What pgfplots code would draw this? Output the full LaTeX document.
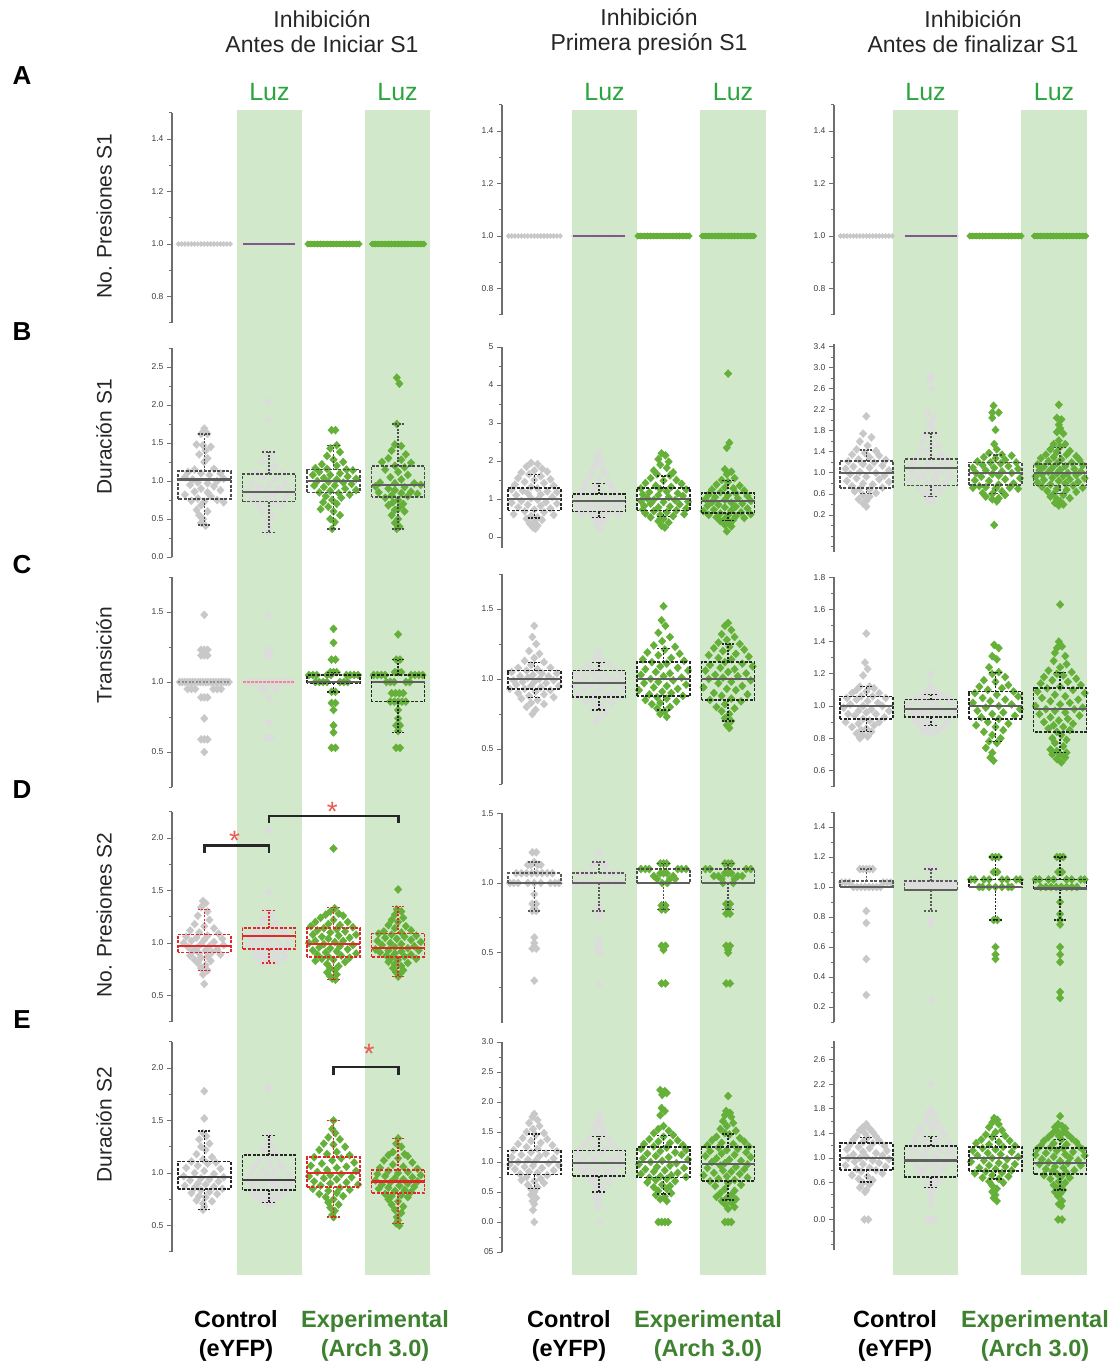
\documentclass[border=0pt]{standalone}
\usepackage{pgfplots}
\pgfplotsset{compat=1.18}
\usepgfplotslibrary{statistics}
\usepackage{fontspec}
\setmainfont{Liberation Sans}
\definecolor{band}{RGB}{210,232,203}
\definecolor{pg}{RGB}{200,200,200}
\definecolor{pg2}{RGB}{220,220,220}
\definecolor{pgr}{RGB}{100,176,56}
\definecolor{axg}{RGB}{110,110,110}
\definecolor{tickc}{RGB}{60,60,60}
\definecolor{luz}{RGB}{40,165,60}
\definecolor{expg}{RGB}{62,130,48}
\definecolor{medg}{RGB}{95,95,95}
\definecolor{boxred}{RGB}{225,40,40}
\definecolor{starred}{RGB}{235,90,80}
\definecolor{purp}{RGB}{120,95,125}
\definecolor{pink}{RGB}{235,140,140}
\pgfplotsset{
 pan/.style={set layers, scale only axis, width=258.4pt, anchor=south west, xmin=0.5, xmax=4.5,
  axis x line=none, axis y line=left, y axis line style={-, draw=axg, line width=1.3pt},
  xtick=\empty, tick align=outside, major tick length=5pt, minor tick length=3pt,
  every tick/.append style={draw=axg, line width=1pt},
  yticklabel style={font=\fontsize{8.5}{9}\selectfont, text=tickc, /pgf/number format/fixed, /pgf/number format/fixed zerofill, /pgf/number format/precision=1},
  /pgf/number format/assume math mode=true, clip=false, scaled y ticks=false},
 P1/.style={only marks, mark=diamond*, mark size=4pt, color=pg, mark options={xscale=1.25}, forget plot},
 P2/.style={only marks, mark=diamond*, mark size=4pt, color=pg2, mark options={xscale=1.25}, forget plot},
 P3/.style={only marks, mark=diamond*, mark size=4pt, color=pgr, mark options={xscale=1.25}, forget plot},
 FG/.style={forget plot, on layer=axis foreground},
}
\newcommand{\bp}[8]{\addplot[FG, draw=#7, boxplot prepared={draw direction=y, draw position=#1, lower whisker=#2, lower quartile=#3, median=#4, upper quartile=#5, upper whisker=#6, box extend=0.82, whisker extend=0.2, every box/.style={draw=#7, dash pattern=on 3pt off 1.5pt, line width=1.7pt}, every whisker/.style={draw=#7, dash pattern=on 2pt off 1.5pt, line width=1.4pt}, every median/.style={draw=#8, solid, line width=2.2pt}}] coordinates {};}
\newcommand{\rowApanel}{%
 \addplot[P1, mark size=2.6pt] coordinates {(0.6,1)(0.65,1)(0.7,1)(0.75,1)(0.8,1)(0.85,1)(0.9,1)(0.95,1)(1.0,1)(1.05,1)(1.1,1)(1.15,1)(1.2,1)(1.25,1)(1.3,1)(1.35,1)(1.4,1)};
 \addplot[P2, mark size=2.2pt] coordinates {(1.6,1)(1.65,1)(1.7,1)(1.75,1)(1.8,1)(1.85,1)(1.9,1)(1.95,1)(2.0,1)(2.05,1)(2.1,1)(2.15,1)(2.2,1)(2.25,1)(2.3,1)(2.35,1)(2.4,1)};
 \addplot[P3, mark size=3.2pt] coordinates {(2.6,1)(2.65,1)(2.7,1)(2.75,1)(2.8,1)(2.85,1)(2.9,1)(2.95,1)(3.0,1)(3.05,1)(3.1,1)(3.15,1)(3.2,1)(3.25,1)(3.3,1)(3.35,1)(3.4,1)};
 \addplot[P3, mark size=3.2pt] coordinates {(3.6,1)(3.65,1)(3.7,1)(3.75,1)(3.8,1)(3.85,1)(3.9,1)(3.95,1)(4.0,1)(4.05,1)(4.1,1)(4.15,1)(4.2,1)(4.25,1)(4.3,1)(4.35,1)(4.4,1)};
 \addplot[FG, purp, line width=2.4pt] coordinates {(1.6,1)(2.4,1)};
 \addplot[FG, pgr, line width=5.5pt, line cap=round] coordinates {(2.62,1)(3.38,1)};
 \addplot[FG, pgr, line width=5.5pt, line cap=round] coordinates {(3.62,1)(4.38,1)};
}
\begin{document}
\begin{tikzpicture}
\path (0pt,0pt) rectangle (1115pt,-1368pt);
\fill[band] (237pt,-110pt) rectangle (302pt,-1275pt);
\fill[band] (365pt,-110pt) rectangle (430pt,-1275pt);
\fill[band] (572pt,-110pt) rectangle (637pt,-1275pt);
\fill[band] (700pt,-110pt) rectangle (766pt,-1275pt);
\fill[band] (893pt,-110pt) rectangle (958pt,-1275pt);
\fill[band] (1021pt,-110pt) rectangle (1087pt,-1275pt);
\node[font=\fontsize{23}{25}\selectfont, align=center, text=black!85] at (322pt,-32pt) {Inhibición\\Antes de Iniciar S1};
\node[font=\fontsize{23}{25}\selectfont, align=center, text=black!85] at (649pt,-32pt) {Inhibición\\Primera presión S1};
\node[font=\fontsize{23}{25}\selectfont, align=center, text=black!85] at (973pt,-32pt) {Inhibición\\Antes de finalizar S1};
\foreach \xx in {269.5,397.5,604.5,733,925.5,1054}{\node[font=\fontsize{25}{25}\selectfont, text=luz] at (\xx pt,-92pt) {Luz};}
\foreach \ll/\yy in {A/-76,B/-332,C/-565,D/-790,E/-1020}{\node[font=\fontsize{26}{26}\selectfont\bfseries] at (22pt,\yy pt) {\ll};}
\node[rotate=90, font=\fontsize{21}{21}\selectfont, text=black!85] at (104pt,-216pt) {No. Presiones S1};
\node[rotate=90, font=\fontsize{21}{21}\selectfont, text=black!85] at (104pt,-437pt) {Duración S1};
\node[rotate=90, font=\fontsize{21}{21}\selectfont, text=black!85] at (104pt,-655pt) {Transición};
\node[rotate=90, font=\fontsize{21}{21}\selectfont, text=black!85] at (104pt,-915pt) {No. Presiones S2};
\node[rotate=90, font=\fontsize{21}{21}\selectfont, text=black!85] at (104pt,-1125pt) {Duración S2};
\foreach \cx/\ex in {236/375,569/708,895/1035}{
 \node[font=\fontsize{23.5}{29}\selectfont\bfseries, align=center] at (\cx pt,-1336pt) {Control\\(eYFP)};
 \node[font=\fontsize{23.5}{29}\selectfont\bfseries, align=center, text=expg] at (\ex pt,-1336pt) {Experimental\\(Arch 3.0)};
}
%%%%%%%%%%%%%%%% ROW A
\begin{axis}[pan, at={(172pt,-322.75pt)}, height=210pt, ymin=0.7, ymax=1.5, ytick={0.8,1.0,1.2,1.4}, minor ytick={0.7,0.9,1.1,1.3,1.5}]
\rowApanel
\end{axis}
\begin{axis}[pan, at={(502pt,-314.75pt)}, height=210pt, ymin=0.7, ymax=1.5, ytick={0.8,1.0,1.2,1.4}, minor ytick={0.7,0.9,1.1,1.3,1.5}]
\rowApanel
\end{axis}
\begin{axis}[pan, at={(834pt,-314.75pt)}, height=210pt, ymin=0.7, ymax=1.5, ytick={0.8,1.0,1.2,1.4}, minor ytick={0.7,0.9,1.1,1.3,1.5}]
\rowApanel
\end{axis}
%%%%%%%%%%%%%%%% ROW B
\begin{axis}[pan, at={(172pt,-557pt)}, height=209pt, ymin=0, ymax=2.75, ytick={0,0.5,1,1.5,2,2.5}, minor ytick={0.25,0.75,1.25,1.75,2.25,2.75}]
\addplot[P1] coordinates {(1.0,1.69)(0.95,1.62)(1.05,1.62)(0.88,1.48)(0.98,1.47)(1.1,1.45)(1.02,1.4)(0.92,1.35)(1.05,1.3)(1.0,1.25)(0.85,1.15)(1.15,1.16)(0.75,1.12)(1.25,1.1)(0.95,1.1)(1.08,1.08)(0.7,1.05)(0.82,1.02)(1.2,1.0)(1.3,1.03)(0.9,0.98)(1.05,0.97)(0.78,0.95)(1.15,0.93)(0.95,0.9)(1.25,0.88)(0.85,0.86)(1.05,0.85)(0.7,0.82)(1.1,0.8)(0.9,0.77)(1.2,0.75)(0.8,0.74)(1.0,0.73)(1.3,0.72)(0.95,0.68)(0.88,0.62)(1.05,0.6)(0.92,0.55)(0.98,0.5)(0.95,0.45)(1.02,0.41)};
\addplot[P2] coordinates {(1.98,2.04)(1.98,1.8)(1.95,1.38)(2.05,1.32)(1.9,1.25)(2.1,1.2)(2.0,1.15)(1.8,1.1)(2.2,1.1)(1.9,1.05)(2.1,1.02)(1.75,0.98)(2.25,0.97)(2.0,0.95)(1.85,0.92)(2.15,0.9)(1.7,0.88)(1.95,0.86)(2.3,0.86)(2.1,0.84)(1.8,0.82)(2.0,0.8)(2.25,0.78)(1.75,0.76)(1.92,0.74)(2.1,0.73)(1.85,0.7)(2.2,0.68)(2.0,0.65)(1.9,0.6)(2.05,0.55)(1.97,0.48)(2.0,0.4)(1.98,0.32)};
\addplot[P3] coordinates {(2.97,1.67)(3.03,1.67)(3.05,1.47)(2.95,1.43)(3.1,1.38)(2.9,1.33)(3.0,1.28)(3.15,1.25)(2.82,1.22)(3.05,1.2)(2.72,1.17)(2.9,1.16)(3.2,1.15)(3.3,1.14)(2.78,1.12)(3.1,1.1)(2.68,1.08)(2.95,1.08)(3.22,1.06)(2.85,1.04)(3.35,1.03)(3.05,1.02)(2.75,1.0)(2.92,0.99)(3.15,0.98)(3.28,0.96)(2.7,0.94)(3.02,0.94)(2.85,0.92)(3.18,0.9)(3.35,0.88)(2.95,0.87)(2.78,0.85)(3.08,0.84)(3.25,0.82)(2.88,0.8)(3.12,0.78)(2.98,0.75)(2.84,0.72)(3.05,0.7)(2.92,0.66)(2.8,0.63)(3.0,0.6)(3.1,0.55)(2.95,0.5)(3.02,0.46)(2.98,0.37)};
\addplot[P3] coordinates {(3.98,2.36)(4.02,2.28)(3.98,1.75)(3.95,1.48)(4.05,1.46)(3.9,1.4)(4.12,1.35)(3.85,1.3)(4.05,1.28)(3.75,1.25)(4.2,1.24)(3.95,1.2)(4.1,1.18)(3.8,1.15)(4.0,1.12)(4.15,1.08)(3.88,1.05)(4.05,1.02)(3.72,0.98)(3.95,0.97)(4.25,0.97)(4.35,0.95)(3.65,0.93)(4.1,0.92)(3.85,0.9)(3.95,0.88)(4.2,0.86)(3.7,0.85)(4.05,0.84)(4.3,0.83)(3.9,0.81)(4.15,0.8)(3.8,0.78)(4.0,0.75)(3.92,0.72)(4.08,0.7)(3.85,0.68)(4.02,0.65)(3.95,0.62)(4.1,0.6)(3.9,0.55)(4.0,0.5)(3.95,0.45)(4.02,0.4)(3.98,0.37)};
\bp{1}{0.42}{0.76}{1.02}{1.13}{1.62}{black!70}{medg}
\bp{2}{0.32}{0.73}{0.86}{1.09}{1.38}{black!70}{medg}
\bp{3}{0.37}{0.85}{1.0}{1.15}{1.47}{black!70}{medg}
\bp{4}{0.37}{0.79}{0.95}{1.2}{1.75}{black!70}{medg}
\end{axis}
\begin{axis}[pan, at={(502pt,-548.4pt)}, height=201.4pt, ymin=-0.3, ymax=5, ytick={0,1,2,3,4,5}, minor ytick={0.5,1.5,2.5,3.5,4.5}, yticklabel style={/pgf/number format/precision=0}]
\addplot[P1] coordinates {(0.95,1.95)(1.05,1.92)(0.88,1.85)(1.12,1.8)(1.0,1.75)(0.8,1.7)(1.2,1.72)(0.92,1.65)(1.1,1.6)(0.75,1.55)(1.25,1.52)(1.0,1.5)(0.85,1.45)(1.15,1.42)(0.7,1.38)(1.3,1.35)(0.95,1.32)(1.05,1.28)(0.65,1.25)(0.82,1.22)(1.2,1.2)(1.35,1.18)(0.9,1.15)(1.1,1.12)(0.72,1.1)(1.28,1.05)(0.95,1.02)(1.05,0.98)(0.8,0.95)(1.18,0.92)(0.65,0.9)(1.35,0.88)(0.9,0.85)(1.1,0.82)(0.75,0.78)(1.25,0.75)(1.0,0.72)(0.85,0.68)(1.15,0.65)(0.68,0.6)(1.3,0.58)(0.95,0.55)(1.05,0.52)(0.88,0.48)(1.12,0.45)(1.0,0.4)(0.93,0.35)(1.05,0.3)(0.98,0.25)(1.02,0.22)};
\addplot[P2] coordinates {(2.0,2.2)(1.97,2.1)(2.03,2.0)(1.95,1.9)(2.05,1.8)(1.9,1.72)(2.1,1.65)(1.85,1.58)(2.0,1.5)(2.15,1.45)(1.8,1.4)(1.95,1.35)(2.2,1.3)(1.75,1.25)(2.05,1.22)(1.9,1.18)(2.25,1.12)(1.7,1.1)(2.1,1.05)(1.85,1.0)(2.3,0.98)(1.65,0.95)(2.0,0.93)(2.2,0.9)(1.8,0.88)(1.95,0.85)(2.35,0.82)(1.68,0.8)(2.1,0.78)(1.85,0.75)(2.25,0.72)(1.72,0.7)(2.0,0.68)(2.15,0.65)(1.9,0.62)(2.3,0.6)(1.75,0.58)(2.05,0.55)(1.92,0.5)(2.1,0.45)(1.97,0.4)(2.03,0.35)(1.98,0.28)(2.02,0.22)};
\addplot[P3] coordinates {(2.97,2.2)(3.03,2.15)(2.92,2.05)(3.08,1.98)(2.95,1.9)(3.05,1.82)(2.85,1.75)(3.15,1.7)(2.9,1.65)(3.1,1.62)(2.8,1.55)(3.2,1.5)(3.0,1.48)(2.72,1.42)(3.28,1.4)(2.88,1.35)(3.12,1.32)(2.65,1.28)(2.95,1.26)(3.35,1.25)(3.05,1.2)(2.78,1.18)(3.22,1.15)(2.68,1.12)(2.92,1.1)(3.3,1.08)(3.08,1.05)(2.75,1.02)(2.85,0.98)(3.18,0.97)(2.65,0.95)(3.38,0.93)(3.0,0.92)(2.8,0.88)(3.25,0.86)(2.7,0.82)(3.1,0.8)(2.92,0.78)(3.35,0.75)(2.68,0.72)(3.2,0.7)(2.85,0.68)(3.05,0.65)(2.72,0.62)(3.32,0.6)(2.95,0.58)(3.15,0.55)(2.8,0.52)(3.0,0.48)(2.92,0.42)(3.08,0.38)(2.97,0.3)(3.02,0.25)};
\addplot[P3] coordinates {(4.0,4.3)(4.02,2.48)(3.98,2.35)(3.95,1.78)(4.05,1.72)(3.98,1.65)(4.1,1.55)(3.9,1.5)(4.0,1.45)(3.82,1.38)(4.18,1.35)(3.95,1.3)(4.08,1.28)(3.75,1.25)(4.25,1.22)(3.88,1.18)(4.12,1.15)(3.7,1.12)(4.0,1.1)(4.3,1.08)(3.8,1.05)(4.15,1.02)(3.65,1.0)(3.95,0.98)(4.35,0.95)(3.75,0.92)(4.05,0.9)(4.22,0.88)(3.85,0.85)(3.68,0.82)(4.12,0.8)(3.95,0.78)(4.3,0.75)(3.78,0.72)(4.05,0.7)(3.62,0.68)(4.2,0.65)(3.88,0.62)(4.35,0.6)(3.7,0.58)(4.0,0.57)(4.12,0.55)(3.82,0.52)(4.25,0.5)(3.95,0.48)(4.08,0.45)(3.88,0.42)(4.02,0.38)(3.95,0.32)(4.05,0.28)(3.98,0.15)};
\bp{1}{0.5}{0.7}{1.0}{1.29}{1.65}{black!85}{medg}
\bp{2}{0.52}{0.67}{0.94}{1.13}{1.41}{black!85}{medg}
\bp{3}{0.54}{0.7}{1.0}{1.29}{1.61}{black!85}{medg}
\bp{4}{0.43}{0.63}{0.95}{1.16}{1.48}{black!85}{medg}
\end{axis}
\begin{axis}[pan, at={(834pt,-551.75pt)}, height=207.4pt, ymin=-0.5, ymax=3.45, ytick={0.2,0.6,1.0,1.4,1.8,2.2,2.6,3.0,3.4}, minor ytick={-0.4,-0.2,0,0.4,0.8,1.2,1.6,2.0,2.4,2.8,3.2}]
\addplot[P1] coordinates {(1.0,2.08)(0.95,1.75)(1.08,1.68)(0.9,1.6)(1.02,1.52)(0.85,1.45)(1.15,1.42)(0.98,1.38)(0.78,1.35)(1.2,1.33)(1.05,1.3)(0.88,1.26)(1.3,1.25)(0.72,1.22)(1.12,1.2)(0.95,1.17)(1.25,1.14)(0.8,1.12)(1.05,1.1)(0.68,1.08)(1.35,1.05)(0.9,1.02)(1.15,1.0)(0.75,0.98)(1.28,0.95)(1.0,0.93)(0.85,0.9)(1.2,0.88)(0.7,0.85)(1.35,0.83)(0.95,0.8)(1.1,0.78)(0.78,0.75)(1.25,0.72)(0.9,0.7)(1.05,0.68)(0.82,0.65)(1.15,0.62)(0.95,0.58)(1.05,0.55)(0.88,0.5)(1.0,0.47)(0.95,0.42)(1.0,0.36)};
\addplot[P2] coordinates {(2.0,2.85)(1.98,2.78)(2.02,2.6)(1.95,2.15)(2.05,2.05)(1.98,1.95)(2.02,1.85)(1.92,1.75)(2.08,1.68)(1.88,1.6)(2.0,1.55)(2.12,1.5)(1.85,1.45)(1.95,1.4)(2.15,1.35)(1.8,1.3)(2.05,1.27)(2.25,1.25)(1.75,1.22)(1.95,1.2)(2.18,1.16)(1.7,1.14)(2.05,1.12)(2.3,1.1)(1.85,1.08)(1.98,1.06)(2.2,1.03)(1.72,1.0)(2.1,0.98)(1.9,0.95)(2.3,0.93)(1.8,0.9)(2.05,0.88)(1.68,0.85)(2.22,0.82)(1.95,0.8)(2.1,0.76)(1.82,0.72)(2.0,0.68)(2.15,0.65)(1.9,0.6)(2.05,0.55)(1.95,0.5)(2.02,0.46)};
\addplot[P3] coordinates {(2.97,2.28)(2.95,2.15)(3.05,2.15)(2.95,2.05)(3.0,1.82)(2.98,1.55)(3.02,1.45)(2.9,1.38)(3.1,1.35)(3.25,1.33)(2.82,1.3)(3.0,1.28)(3.15,1.25)(2.72,1.22)(2.92,1.2)(3.32,1.2)(3.08,1.18)(2.8,1.15)(3.2,1.13)(2.65,1.1)(2.98,1.1)(3.35,1.08)(2.85,1.05)(3.1,1.03)(2.7,1.0)(3.25,1.0)(2.95,0.98)(3.05,0.95)(2.78,0.93)(3.38,0.9)(3.15,0.88)(2.68,0.86)(2.9,0.85)(3.28,0.8)(3.05,0.78)(2.75,0.75)(2.85,0.73)(3.22,0.72)(2.65,0.72)(3.0,0.7)(3.35,0.7)(3.1,0.65)(2.8,0.62)(2.95,0.6)(3.15,0.58)(2.85,0.55)(3.05,0.52)(2.95,0.5)(3.02,0.46)(2.98,0.01)};
\addplot[P3] coordinates {(3.98,2.3)(3.95,2.05)(4.02,2.02)(3.98,1.92)(4.0,1.85)(3.95,1.78)(4.05,1.75)(3.98,1.62)(3.9,1.55)(4.08,1.55)(4.0,1.5)(3.85,1.45)(4.15,1.42)(3.95,1.4)(3.78,1.35)(4.1,1.35)(4.25,1.32)(3.9,1.3)(3.7,1.28)(4.02,1.26)(4.3,1.25)(3.82,1.22)(4.18,1.2)(3.95,1.18)(3.65,1.16)(4.35,1.15)(4.08,1.13)(3.75,1.12)(3.88,1.1)(4.22,1.08)(4.0,1.06)(3.68,1.05)(4.32,1.03)(3.82,1.02)(4.12,1.0)(3.95,0.99)(3.72,0.97)(4.25,0.96)(4.05,0.94)(3.62,0.93)(3.88,0.91)(4.38,0.9)(4.15,0.88)(3.75,0.87)(3.98,0.85)(4.28,0.83)(3.65,0.82)(4.08,0.8)(3.85,0.78)(4.2,0.76)(3.72,0.74)(4.35,0.72)(3.95,0.7)(4.1,0.68)(3.8,0.66)(4.25,0.64)(3.9,0.6)(4.05,0.58)(3.85,0.55)(4.15,0.52)(3.95,0.5)(4.0,0.46)(3.92,0.43)(4.05,0.4)(3.98,0.38)};
\bp{1}{0.61}{0.72}{1.0}{1.23}{1.44}{black!70}{medg}
\bp{2}{0.55}{0.76}{1.09}{1.26}{1.76}{black!70}{medg}
\bp{3}{0.61}{0.77}{1.0}{1.2}{1.34}{black!70}{medg}
\bp{4}{0.61}{0.76}{1.0}{1.17}{1.49}{black!70}{medg}
\end{axis}
%%%%%%%%%%%%%%%% ROW C
\begin{axis}[pan, at={(172pt,-787pt)}, height=210pt, ymin=0.25, ymax=1.75, ytick={0.5,1.0,1.5}, minor ytick={0.25,0.75,1.25,1.75}]
\addplot[P1] coordinates {(1.0,1.48)(0.95,1.23)(1.0,1.23)(1.05,1.23)(0.95,1.19)(1.0,1.19)(1.05,1.19)(0.62,1.0)(0.66,1.0)(0.7,1.0)(0.74,1.0)(0.78,1.0)(0.82,1.0)(0.86,1.0)(0.9,1.0)(0.94,1.0)(0.98,1.0)(1.02,1.0)(1.06,1.0)(1.1,1.0)(1.14,1.0)(1.18,1.0)(1.22,1.0)(1.26,1.0)(1.3,1.0)(1.34,1.0)(1.38,1.0)(0.74,0.95)(0.8,0.95)(0.86,0.95)(1.14,0.95)(1.2,0.95)(1.26,0.95)(0.95,0.89)(1.0,0.89)(1.05,0.89)(1.0,0.74)(0.95,0.59)(1.0,0.59)(1.05,0.59)(1.0,0.5)};
\addplot[P2] coordinates {(2.0,1.48)(2.0,1.23)(1.97,1.19)(2.03,1.19)(1.88,0.95)(1.94,0.95)(2.1,0.95)(2.0,0.89)(2.0,0.71)(1.97,0.6)(2.03,0.6)(1.65,1.0)(1.7,1.0)(1.75,1.0)(1.8,1.0)(1.85,1.0)(1.9,1.0)(1.95,1.0)(2.0,1.0)(2.05,1.0)(2.1,1.0)(2.15,1.0)(2.2,1.0)(2.25,1.0)(2.3,1.0)(2.35,1.0)};
\addplot[FG, medg!70, line width=1.6pt, dash pattern=on 2pt off 1.5pt] coordinates {(0.6,1)(1.4,1)};
\addplot[FG, pink, line width=2.4pt, dash pattern=on 3pt off 1pt] coordinates {(1.6,1)(2.4,1)};
\addplot[P3] coordinates {(3.0,1.38)(3.0,1.28)(2.97,1.16)(3.03,1.16)(2.95,1.07)(3.0,1.07)(3.05,1.07)(2.62,1.05)(2.68,1.05)(2.74,1.05)(2.9,1.05)(2.96,1.05)(3.2,1.05)(3.26,1.05)(3.32,1.05)(3.38,1.05)(2.72,1.0)(2.78,1.0)(2.84,1.0)(2.9,1.0)(3.1,1.0)(3.16,1.0)(3.22,1.0)(2.97,0.93)(3.03,0.93)(2.97,0.85)(3.03,0.85)(3.0,0.8)(3.0,0.69)(3.0,0.64)(2.97,0.53)(3.03,0.53)};
\addplot[P3] coordinates {(4.0,1.34)(3.97,1.16)(4.03,1.16)(3.95,1.07)(4.0,1.07)(4.05,1.07)(3.62,1.05)(3.68,1.05)(3.74,1.05)(3.8,1.05)(4.2,1.05)(4.26,1.05)(4.32,1.05)(4.38,1.05)(3.82,1.0)(3.88,1.0)(3.94,1.0)(4.12,1.0)(4.18,1.0)(3.9,0.92)(3.96,0.92)(4.02,0.92)(4.08,0.92)(3.88,0.86)(3.94,0.86)(4.0,0.86)(4.06,0.86)(4.12,0.86)(4.0,0.8)(4.0,0.74)(3.97,0.69)(4.03,0.69)(4.0,0.65)(3.97,0.53)(4.03,0.53)};
\bp{3}{0.93}{0.99}{1.0}{1.05}{1.07}{black!85}{medg}
\bp{4}{0.64}{0.86}{1.0}{1.05}{1.16}{black!85}{medg}
\end{axis}
\begin{axis}[pan, at={(502pt,-784pt)}, height=210pt, ymin=0.25, ymax=1.75, ytick={0.5,1.0,1.5}, minor ytick={0.25,0.75,1.25,1.75}]
\addplot[P1] coordinates {(1.0,1.38)(0.97,1.3)(1.03,1.25)(0.92,1.2)(1.08,1.18)(1.0,1.15)(0.85,1.13)(1.15,1.12)(0.95,1.1)(0.75,1.08)(1.25,1.08)(1.05,1.07)(0.88,1.06)(0.65,1.05)(1.35,1.04)(1.12,1.04)(0.98,1.03)(0.78,1.02)(1.22,1.02)(0.9,1.01)(1.08,1.0)(0.68,0.99)(1.3,0.99)(0.82,0.98)(1.0,0.98)(1.18,0.97)(0.72,0.96)(0.95,0.95)(1.38,0.95)(1.1,0.94)(0.62,0.93)(0.85,0.93)(1.25,0.92)(1.02,0.91)(0.75,0.9)(1.15,0.89)(0.92,0.88)(1.3,0.87)(0.8,0.86)(1.05,0.85)(0.95,0.83)(1.15,0.82)(0.88,0.8)(1.02,0.78)(0.97,0.75)};
\addplot[P2] coordinates {(2.0,1.2)(1.95,1.15)(2.05,1.13)(1.85,1.1)(2.15,1.1)(2.0,1.08)(1.75,1.06)(2.25,1.06)(1.9,1.05)(2.1,1.04)(1.65,1.03)(2.35,1.03)(1.98,1.02)(1.8,1.01)(2.2,1.0)(2.05,0.99)(1.7,0.98)(2.3,0.98)(1.92,0.97)(2.12,0.96)(1.62,0.95)(1.85,0.95)(2.38,0.94)(2.02,0.93)(1.75,0.92)(2.25,0.91)(1.95,0.9)(2.15,0.89)(1.68,0.88)(1.88,0.87)(2.32,0.87)(2.08,0.86)(1.8,0.84)(2.2,0.83)(1.95,0.82)(2.05,0.8)(1.9,0.78)(2.1,0.76)(2.0,0.73)(1.97,0.7)};
\addplot[P3] coordinates {(3.0,1.52)(2.97,1.42)(3.03,1.38)(2.92,1.33)(3.1,1.3)(2.98,1.27)(2.85,1.24)(3.18,1.23)(3.02,1.21)(2.75,1.19)(3.25,1.18)(2.92,1.17)(3.12,1.15)(2.68,1.14)(3.32,1.13)(2.82,1.12)(3.05,1.11)(2.95,1.09)(3.22,1.08)(2.72,1.07)(3.38,1.06)(2.88,1.05)(3.1,1.04)(2.65,1.03)(3.0,1.02)(3.28,1.01)(2.8,1.0)(3.15,0.99)(2.92,0.98)(2.7,0.97)(3.35,0.96)(3.05,0.95)(2.85,0.94)(3.22,0.93)(2.62,0.92)(2.98,0.91)(3.12,0.9)(2.78,0.89)(3.3,0.88)(2.9,0.87)(3.05,0.86)(2.72,0.85)(3.2,0.84)(2.95,0.83)(2.82,0.82)(3.1,0.8)(2.9,0.79)(3.02,0.77)(2.95,0.75)(3.05,0.73)};
\addplot[P3] coordinates {(4.0,1.4)(3.95,1.38)(4.05,1.35)(3.9,1.32)(4.1,1.3)(3.98,1.28)(3.85,1.26)(4.18,1.25)(4.02,1.23)(3.78,1.22)(4.25,1.21)(3.92,1.2)(4.12,1.18)(3.7,1.17)(4.32,1.16)(3.85,1.15)(4.05,1.14)(3.95,1.12)(4.22,1.11)(3.72,1.1)(4.38,1.09)(3.88,1.08)(4.1,1.07)(3.65,1.06)(4.0,1.05)(4.28,1.04)(3.8,1.03)(4.15,1.02)(3.92,1.01)(3.7,1.0)(4.35,0.99)(4.05,0.98)(3.85,0.97)(4.22,0.95)(3.62,0.94)(3.98,0.93)(4.12,0.92)(3.78,0.9)(4.3,0.89)(3.9,0.88)(4.05,0.86)(3.72,0.85)(4.2,0.84)(3.95,0.82)(3.82,0.8)(4.1,0.79)(3.9,0.77)(4.02,0.75)(3.95,0.72)(4.05,0.7)(3.98,0.67)(4.02,0.65)};
\bp{1}{0.87}{0.93}{1.0}{1.06}{1.12}{black!85}{medg}
\bp{2}{0.78}{0.87}{0.97}{1.06}{1.12}{black!85}{medg}
\bp{3}{0.78}{0.88}{1.0}{1.12}{1.22}{black!85}{medg}
\bp{4}{0.7}{0.85}{1.0}{1.12}{1.25}{black!85}{medg}
\end{axis}
\begin{axis}[pan, at={(834pt,-786.5pt)}, height=209.3pt, ymin=0.5, ymax=1.8, ytick={0.6,0.8,1.0,1.2,1.4,1.6,1.8}, minor ytick={0.5,0.7,0.9,1.1,1.3,1.5,1.7}]
\addplot[P1] coordinates {(1.0,1.45)(0.98,1.27)(1.02,1.23)(0.95,1.19)(0.9,1.12)(1.05,1.12)(1.12,1.11)(0.85,1.1)(1.0,1.09)(0.78,1.08)(1.2,1.08)(0.92,1.06)(1.1,1.06)(0.7,1.05)(1.3,1.05)(0.85,1.04)(1.02,1.03)(1.18,1.02)(0.75,1.01)(0.95,1.0)(1.25,1.0)(0.65,0.99)(1.08,0.98)(0.88,0.97)(1.35,0.97)(1.0,0.96)(0.72,0.95)(1.15,0.95)(0.82,0.94)(1.28,0.93)(0.95,0.92)(1.05,0.91)(0.68,0.9)(1.2,0.9)(0.88,0.89)(1.12,0.88)(0.78,0.87)(1.0,0.86)(0.92,0.85)(1.08,0.84)(0.85,0.83)(0.95,0.82)(1.02,0.81)(0.9,0.8)};
\addplot[P2] coordinates {(2.0,1.2)(1.98,1.12)(2.03,1.1)(1.92,1.08)(2.1,1.07)(1.85,1.06)(2.18,1.06)(1.78,1.05)(2.25,1.05)(1.95,1.04)(2.05,1.03)(1.7,1.02)(2.32,1.02)(1.88,1.01)(2.12,1.0)(1.65,0.99)(2.0,0.99)(2.38,0.98)(1.8,0.97)(2.2,0.97)(1.92,0.96)(2.08,0.95)(1.72,0.95)(2.3,0.94)(1.85,0.93)(2.15,0.93)(1.98,0.92)(1.75,0.91)(2.25,0.9)(1.9,0.89)(2.05,0.89)(1.82,0.88)(2.18,0.87)(1.95,0.86)(2.1,0.85)(1.88,0.84)(2.0,0.83)};
\addplot[P3] coordinates {(2.98,1.38)(3.05,1.36)(2.95,1.31)(3.02,1.29)(2.9,1.24)(3.05,1.21)(2.95,1.2)(3.15,1.18)(2.82,1.16)(3.0,1.15)(3.2,1.13)(2.75,1.12)(3.1,1.11)(2.88,1.1)(3.28,1.09)(2.68,1.08)(3.02,1.07)(3.35,1.06)(2.8,1.05)(3.15,1.04)(2.92,1.03)(2.65,1.02)(3.25,1.01)(3.05,1.0)(2.85,0.99)(3.38,0.98)(2.72,0.97)(3.12,0.96)(2.95,0.95)(3.3,0.94)(2.78,0.93)(3.05,0.92)(2.88,0.9)(3.2,0.89)(2.7,0.88)(3.0,0.87)(3.12,0.85)(2.82,0.84)(2.95,0.82)(3.08,0.8)(2.9,0.78)(3.02,0.77)(2.85,0.74)(2.95,0.71)(2.92,0.68)(2.97,0.66)};
\addplot[P3] coordinates {(4.0,1.63)(3.98,1.4)(4.03,1.37)(3.95,1.36)(3.92,1.33)(4.08,1.31)(3.9,1.28)(4.1,1.26)(4.0,1.24)(3.82,1.22)(4.18,1.21)(3.95,1.2)(4.05,1.19)(3.75,1.18)(4.25,1.17)(3.88,1.16)(4.12,1.15)(3.7,1.14)(4.32,1.13)(4.0,1.12)(3.8,1.11)(4.2,1.1)(3.65,1.09)(4.38,1.08)(3.92,1.07)(4.08,1.06)(3.72,1.05)(4.28,1.04)(3.85,1.03)(4.15,1.02)(4.0,1.01)(3.62,1.0)(4.35,0.99)(3.78,0.98)(4.22,0.98)(3.92,0.97)(4.08,0.96)(3.68,0.95)(4.3,0.94)(3.85,0.93)(4.12,0.92)(3.98,0.91)(3.75,0.9)(4.2,0.89)(3.9,0.88)(4.05,0.87)(3.82,0.86)(4.15,0.85)(3.95,0.84)(4.02,0.82)(3.88,0.8)(4.1,0.79)(3.92,0.77)(4.05,0.75)(3.85,0.73)(3.95,0.72)(4.1,0.71)(4.0,0.7)(3.88,0.7)(4.08,0.68)(3.95,0.67)(4.02,0.65)};
\bp{1}{0.84}{0.92}{1.0}{1.06}{1.12}{black!85}{medg}
\bp{2}{0.88}{0.93}{0.98}{1.04}{1.07}{black!85}{medg}
\bp{3}{0.78}{0.92}{1.0}{1.09}{1.21}{black!85}{medg}
\bp{4}{0.71}{0.84}{0.98}{1.11}{1.21}{black!85}{medg}
\end{axis}
%%%%%%%%%%%%%%%% ROW D
\begin{axis}[pan, at={(172pt,-1021.75pt)}, height=210pt, ymin=0.25, ymax=2.25, ytick={0.5,1.0,1.5,2.0}, minor ytick={0.25,0.75,1.25,1.75,2.25}]
\addplot[P1] coordinates {(0.98,1.4)(1.02,1.38)(0.95,1.34)(1.05,1.3)(0.9,1.26)(1.08,1.22)(0.85,1.18)(1.0,1.16)(1.15,1.14)(0.78,1.12)(0.92,1.1)(1.22,1.09)(1.05,1.07)(0.72,1.06)(0.88,1.05)(1.28,1.04)(1.0,1.03)(0.8,1.02)(1.15,1.01)(0.68,1.0)(0.95,0.99)(1.3,0.98)(1.08,0.97)(0.75,0.96)(0.88,0.95)(1.2,0.94)(1.02,0.93)(0.82,0.92)(1.12,0.91)(0.92,0.9)(1.25,0.89)(0.78,0.88)(1.05,0.87)(0.95,0.86)(0.85,0.84)(1.1,0.83)(0.9,0.81)(1.02,0.79)(0.95,0.76)(1.05,0.74)(0.98,0.7)(1.0,0.61)};
\addplot[P2] coordinates {(2.0,2.07)(2.0,1.48)(1.97,1.3)(2.05,1.26)(1.92,1.22)(2.1,1.18)(1.85,1.15)(2.02,1.14)(2.18,1.12)(1.78,1.1)(1.95,1.09)(2.25,1.08)(2.08,1.06)(1.72,1.05)(1.88,1.04)(2.3,1.03)(2.0,1.02)(1.8,1.0)(2.15,0.99)(1.7,0.98)(1.95,0.97)(2.28,0.96)(2.05,0.95)(1.85,0.94)(2.2,0.93)(1.98,0.92)(1.78,0.91)(2.12,0.9)(1.9,0.88)(2.25,0.87)(2.05,0.86)(1.82,0.85)(1.95,0.84)(2.15,0.83)(2.02,0.81)(1.9,0.8)};
\addplot[P3] coordinates {(3.0,1.9)(3.02,1.33)(2.95,1.3)(3.08,1.28)(2.88,1.27)(3.15,1.26)(2.8,1.24)(3.0,1.22)(2.72,1.2)(3.22,1.2)(2.92,1.18)(3.1,1.17)(2.65,1.16)(3.3,1.15)(2.85,1.14)(3.05,1.13)(2.75,1.12)(3.18,1.11)(2.95,1.1)(2.68,1.08)(3.35,1.08)(3.08,1.07)(2.82,1.06)(3.25,1.05)(2.92,1.04)(2.72,1.02)(3.15,1.02)(3.02,1.01)(2.62,1.0)(2.85,0.99)(3.3,0.98)(3.1,0.97)(2.78,0.96)(2.95,0.95)(3.22,0.94)(2.68,0.93)(3.05,0.92)(2.88,0.91)(3.35,0.9)(2.75,0.89)(3.12,0.88)(2.92,0.87)(3.25,0.86)(2.82,0.85)(3.0,0.84)(2.72,0.83)(3.18,0.82)(2.9,0.8)(3.08,0.78)(2.95,0.76)(3.02,0.74)(2.9,0.72)(3.05,0.7)(2.95,0.68)(2.98,0.66)(3.03,0.65)};
\addplot[P3] coordinates {(4.0,1.51)(3.98,1.32)(4.05,1.3)(3.95,1.27)(4.08,1.24)(3.9,1.22)(4.0,1.2)(3.85,1.17)(4.12,1.16)(3.95,1.14)(4.2,1.12)(3.78,1.11)(4.05,1.1)(3.7,1.09)(3.9,1.08)(4.28,1.07)(4.1,1.06)(3.8,1.05)(3.98,1.04)(4.2,1.03)(3.68,1.02)(4.35,1.01)(3.88,1.0)(4.05,0.99)(3.75,0.98)(4.25,0.97)(3.95,0.96)(4.15,0.95)(3.65,0.94)(3.85,0.93)(4.32,0.93)(4.05,0.92)(3.72,0.91)(3.95,0.9)(4.2,0.89)(3.82,0.88)(4.1,0.87)(3.9,0.86)(4.28,0.85)(4.0,0.84)(3.85,0.82)(4.15,0.81)(3.95,0.8)(4.05,0.78)(3.92,0.76)(4.08,0.74)(3.97,0.72)(4.02,0.7)(4.0,0.68)};
\bp{1}{0.74}{0.91}{0.97}{1.08}{1.32}{boxred}{boxred}
\bp{2}{0.81}{0.94}{1.07}{1.14}{1.31}{boxred}{boxred}
\bp{3}{0.65}{0.87}{0.99}{1.14}{1.34}{boxred}{boxred}
\bp{4}{0.68}{0.87}{0.95}{1.09}{1.35}{boxred}{boxred}
\draw[line width=2.8pt, black!85] (axis cs:1,1.86) -- (axis cs:1,1.93) -- (axis cs:2,1.93) -- (axis cs:2,1.86);
\draw[line width=2.8pt, black!85] (axis cs:2,2.14) -- (axis cs:2,2.21) -- (axis cs:4,2.21) -- (axis cs:4,2.14);
\node[text=starred, font=\fontsize{28}{28}\selectfont] at (axis cs:1.47,1.97) {*};
\node[text=starred, font=\fontsize{28}{28}\selectfont] at (axis cs:2.98,2.25) {*};
\end{axis}
\begin{axis}[pan, at={(502pt,-1022.5pt)}, height=209.25pt, ymin=0, ymax=1.5, ytick={0.5,1.0,1.5}, minor ytick={0.25,0.75,1.25}]
\addplot[P1] coordinates {(0.97,1.22)(1.03,1.22)(1.0,1.15)(0.9,1.13)(0.95,1.13)(1.05,1.13)(1.1,1.13)(0.72,1.07)(0.8,1.07)(0.88,1.07)(0.96,1.07)(1.04,1.07)(1.12,1.07)(1.2,1.07)(1.28,1.07)(0.62,1.0)(0.68,1.0)(0.75,1.0)(0.9,1.0)(1.0,1.0)(1.1,1.0)(1.25,1.0)(1.32,1.0)(1.38,1.0)(1.0,0.92)(0.97,0.85)(1.03,0.85)(1.0,0.82)(0.97,0.8)(1.03,0.8)(1.0,0.61)(1.0,0.57)(0.97,0.53)(1.03,0.53)(1.0,0.3)};
\addplot[P2] coordinates {(2.0,1.22)(1.95,1.15)(2.05,1.15)(1.9,1.13)(2.1,1.13)(1.7,1.07)(1.8,1.07)(1.9,1.07)(2.1,1.07)(2.2,1.07)(2.3,1.07)(1.65,1.0)(1.75,1.0)(1.85,1.0)(1.95,1.0)(2.05,1.0)(2.15,1.0)(2.25,1.0)(2.35,1.0)(2.0,0.84)(1.98,0.8)(2.02,0.8)(2.0,0.76)(2.0,0.6)(1.98,0.55)(2.0,0.52)(2.02,0.5)(2.0,0.27)};
\addplot[P3] coordinates {(2.95,1.14)(3.0,1.14)(3.05,1.14)(2.65,1.1)(2.72,1.1)(2.78,1.1)(3.22,1.1)(3.28,1.1)(3.35,1.1)(2.95,1.07)(3.0,1.07)(3.05,1.07)(2.85,1.05)(3.15,1.05)(2.9,1.03)(3.1,1.03)(3.18,1.03)(2.98,1.0)(3.06,1.0)(2.97,0.84)(3.03,0.84)(2.97,0.81)(3.03,0.81)(2.97,0.55)(3.03,0.55)(3.0,0.52)(2.97,0.28)(3.03,0.28)};
\addplot[P3] coordinates {(3.95,1.14)(4.0,1.14)(4.05,1.14)(3.65,1.1)(3.72,1.1)(4.28,1.1)(4.35,1.1)(3.95,1.07)(4.0,1.07)(4.05,1.07)(3.78,1.05)(3.85,1.05)(4.15,1.05)(4.22,1.05)(3.9,1.03)(4.1,1.03)(3.92,1.0)(4.08,1.0)(3.97,0.85)(4.03,0.85)(4.0,0.82)(3.97,0.78)(4.03,0.78)(3.97,0.55)(4.03,0.55)(4.0,0.52)(4.0,0.5)(3.97,0.28)(4.03,0.28)};
\bp{1}{0.8}{1.0}{1.0}{1.07}{1.15}{black!65}{medg}
\bp{2}{0.8}{1.0}{1.0}{1.07}{1.15}{black!65}{medg}
\bp{3}{0.81}{1.0}{1.0}{1.1}{1.14}{black!70}{medg}
\bp{4}{0.81}{1.0}{1.0}{1.1}{1.14}{black!70}{medg}
\end{axis}
\begin{axis}[pan, at={(834pt,-1022pt)}, height=210pt, ymin=0.1, ymax=1.5, ytick={0.2,0.4,0.6,0.8,1.0,1.2,1.4}, minor ytick={0.1,0.3,0.5,0.7,0.9,1.1,1.3,1.5}]
\addplot[P1] coordinates {(0.9,1.12)(0.95,1.12)(1.0,1.12)(1.05,1.12)(1.1,1.12)(0.62,1.03)(0.68,1.03)(0.74,1.03)(1.26,1.03)(1.32,1.03)(1.38,1.03)(0.8,1.0)(0.86,1.0)(0.92,1.0)(0.98,1.0)(1.04,1.0)(1.1,1.0)(1.16,1.0)(1.22,1.0)(1.0,0.84)(1.0,0.76)(1.0,0.52)(1.0,0.28)};
\addplot[P2] coordinates {(1.95,1.12)(2.0,1.12)(2.05,1.12)(1.65,1.03)(1.72,1.03)(1.8,1.03)(1.88,1.03)(1.96,1.03)(2.04,1.03)(2.12,1.03)(2.2,1.03)(2.28,1.03)(2.35,1.03)(1.7,1.0)(1.8,1.0)(1.9,1.0)(2.0,1.0)(2.1,1.0)(2.2,1.0)(2.3,1.0)(2.0,0.78)(2.0,0.75)(2.0,0.25)};
\addplot[P3] coordinates {(2.95,1.2)(3.0,1.2)(3.05,1.2)(2.97,1.1)(3.03,1.1)(2.62,1.05)(2.68,1.05)(2.82,1.05)(2.9,1.05)(3.1,1.05)(3.18,1.05)(3.32,1.05)(3.38,1.05)(2.75,1.0)(2.8,1.0)(2.9,1.0)(3.0,1.0)(3.1,1.0)(3.2,1.0)(3.25,1.0)(2.97,0.78)(3.03,0.78)(3.0,0.6)(3.0,0.55)(3.0,0.52)};
\addplot[P3] coordinates {(3.95,1.2)(4.0,1.2)(4.05,1.2)(3.97,1.1)(4.03,1.1)(3.62,1.05)(3.68,1.05)(3.82,1.05)(3.9,1.05)(4.1,1.05)(4.18,1.05)(4.32,1.05)(4.38,1.05)(3.7,1.0)(3.78,1.0)(3.86,1.0)(3.94,1.0)(4.02,1.0)(4.1,1.0)(4.18,1.0)(4.26,1.0)(4.0,0.9)(4.0,0.82)(4.0,0.78)(4.0,0.75)(4.0,0.6)(4.0,0.55)(4.0,0.5)(4.0,0.3)(4.0,0.26)};
\bp{1}{1.0}{1.0}{1.0}{1.04}{1.12}{black!65}{medg}
\bp{2}{0.84}{0.98}{0.98}{1.04}{1.12}{black!65}{medg}
\bp{3}{0.78}{1.0}{1.0}{1.05}{1.2}{black!85}{medg}
\bp{4}{0.78}{0.99}{0.99}{1.05}{1.2}{black!85}{medg}
\end{axis}
%%%%%%%%%%%%%%%% ROW E
\begin{axis}[pan, at={(172pt,-1251.75pt)}, height=210pt, ymin=0.25, ymax=2.25, ytick={0.5,1.0,1.5,2.0}, minor ytick={0.25,0.75,1.25,1.75,2.25}]
\addplot[P1] coordinates {(1.0,1.78)(1.0,1.52)(0.98,1.38)(1.03,1.35)(0.92,1.32)(1.08,1.28)(0.95,1.25)(1.02,1.22)(0.88,1.18)(1.12,1.15)(0.98,1.13)(0.8,1.11)(1.18,1.1)(1.05,1.09)(0.9,1.07)(0.72,1.05)(1.25,1.04)(1.0,1.02)(0.85,1.0)(1.15,0.99)(0.68,0.97)(1.3,0.96)(0.95,0.95)(1.08,0.94)(0.78,0.93)(1.22,0.92)(0.9,0.9)(1.02,0.89)(0.7,0.88)(1.15,0.87)(0.85,0.86)(1.28,0.85)(0.95,0.84)(1.08,0.82)(0.8,0.81)(1.2,0.8)(0.92,0.78)(1.02,0.77)(0.88,0.74)(1.12,0.73)(0.98,0.71)(1.0,0.68)(0.98,0.65)};
\addplot[P2] coordinates {(2.0,1.82)(2.0,1.8)(2.02,1.36)(1.98,1.3)(2.05,1.25)(1.92,1.22)(2.1,1.18)(1.98,1.15)(1.85,1.12)(2.15,1.1)(2.02,1.08)(1.78,1.06)(2.22,1.05)(1.92,1.03)(2.08,1.01)(1.72,1.0)(2.3,0.98)(1.98,0.97)(1.85,0.95)(2.15,0.94)(1.68,0.93)(2.35,0.92)(2.05,0.91)(1.78,0.9)(2.25,0.89)(1.92,0.88)(2.12,0.86)(1.72,0.85)(2.3,0.84)(1.85,0.82)(2.02,0.81)(2.2,0.8)(1.78,0.79)(1.95,0.78)(2.12,0.77)(1.88,0.75)(2.05,0.74)(1.95,0.72)(2.02,0.7)};
\addplot[P3] coordinates {(3.0,1.5)(2.98,1.42)(3.03,1.38)(2.92,1.34)(3.1,1.32)(2.85,1.28)(3.0,1.27)(3.18,1.25)(2.78,1.22)(3.05,1.2)(2.9,1.18)(3.25,1.17)(2.7,1.15)(3.12,1.14)(2.98,1.12)(3.32,1.1)(2.82,1.09)(2.65,1.07)(3.2,1.06)(3.05,1.05)(2.9,1.03)(3.35,1.02)(2.75,1.01)(3.12,0.99)(2.95,0.98)(2.62,0.97)(3.28,0.96)(2.85,0.95)(3.05,0.94)(2.7,0.92)(3.2,0.91)(2.95,0.9)(3.38,0.89)(2.8,0.88)(3.1,0.86)(2.68,0.85)(3.25,0.84)(2.92,0.83)(3.05,0.81)(2.78,0.8)(3.15,0.78)(2.88,0.77)(3.0,0.75)(2.92,0.72)(3.08,0.7)(2.95,0.67)(3.02,0.64)(2.98,0.6)(3.0,0.58)};
\addplot[P3] coordinates {(4.0,1.33)(3.97,1.28)(4.05,1.25)(3.92,1.2)(4.1,1.18)(3.85,1.17)(4.15,1.16)(4.0,1.14)(3.78,1.12)(4.22,1.1)(3.92,1.08)(4.08,1.06)(3.72,1.05)(4.3,1.04)(3.85,1.02)(4.15,1.01)(4.0,1.0)(3.68,0.99)(4.35,0.98)(3.8,0.97)(4.22,0.96)(3.95,0.95)(4.08,0.94)(3.65,0.93)(4.3,0.92)(3.88,0.91)(4.15,0.9)(3.75,0.89)(4.02,0.88)(4.25,0.87)(3.85,0.86)(3.7,0.85)(4.1,0.84)(3.95,0.83)(4.2,0.82)(3.8,0.8)(4.05,0.79)(3.9,0.78)(4.15,0.77)(3.85,0.75)(4.0,0.73)(3.9,0.7)(4.08,0.68)(3.95,0.65)(4.05,0.62)(3.98,0.58)(4.0,0.55)(3.97,0.52)(4.02,0.5)};
\bp{1}{0.65}{0.85}{0.96}{1.11}{1.4}{black!85}{black!75}
\bp{2}{0.72}{0.84}{0.93}{1.17}{1.36}{black!85}{black!75}
\bp{3}{0.58}{0.87}{1.0}{1.15}{1.5}{boxred}{boxred}
\bp{4}{0.52}{0.81}{0.92}{1.03}{1.33}{boxred}{boxred}
\draw[line width=2.8pt, black!85] (axis cs:3,1.93) -- (axis cs:3,2.01) -- (axis cs:4,2.01) -- (axis cs:4,1.93);
\node[text=starred, font=\fontsize{28}{28}\selectfont] at (axis cs:3.55,2.13) {*};
\end{axis}
\begin{axis}[pan, at={(502pt,-1252pt)}, height=210pt, ymin=-0.5, ymax=3.0, ytick={-0.5,0,0.5,1.0,1.5,2.0,2.5,3.0}, yticklabels={05,0.0,0.5,1.0,1.5,2.0,2.5,3.0}, minor ytick={-0.25,0.25,0.75,1.25,1.75,2.25,2.75}]
\addplot[P1] coordinates {(1.0,1.8)(0.97,1.75)(1.05,1.7)(0.92,1.65)(1.08,1.6)(0.98,1.55)(0.88,1.5)(1.15,1.48)(1.02,1.45)(0.82,1.4)(1.2,1.38)(0.95,1.35)(1.1,1.32)(0.75,1.3)(1.28,1.28)(0.88,1.25)(1.05,1.22)(0.68,1.2)(1.35,1.18)(0.95,1.16)(1.18,1.14)(0.8,1.12)(1.08,1.1)(0.65,1.08)(1.3,1.06)(0.9,1.04)(1.02,1.02)(0.75,1.0)(1.22,0.98)(0.62,0.96)(1.38,0.95)(0.98,0.94)(0.85,0.92)(1.12,0.9)(0.7,0.88)(1.3,0.86)(0.92,0.84)(1.05,0.82)(0.78,0.8)(1.2,0.78)(0.88,0.75)(1.1,0.72)(0.8,0.7)(1.0,0.68)(1.15,0.65)(0.9,0.62)(1.05,0.58)(0.95,0.55)(1.0,0.5)(0.95,0.45)(1.03,0.4)(0.97,0.35)(1.0,0.3)(0.98,0.2)(1.0,0.0)};
\addplot[P2] coordinates {(2.0,1.8)(2.02,1.72)(1.97,1.65)(2.05,1.6)(1.92,1.55)(2.08,1.5)(1.98,1.45)(1.85,1.4)(2.15,1.38)(2.0,1.35)(1.78,1.3)(2.22,1.28)(1.92,1.25)(2.1,1.22)(1.7,1.2)(2.3,1.18)(1.85,1.16)(2.05,1.14)(1.65,1.12)(2.35,1.1)(1.95,1.08)(2.18,1.06)(1.75,1.04)(2.28,1.02)(1.9,1.0)(2.08,0.98)(1.68,0.96)(2.32,0.94)(1.82,0.92)(2.0,0.9)(2.2,0.88)(1.72,0.86)(1.92,0.84)(2.12,0.82)(1.8,0.8)(2.25,0.78)(1.95,0.76)(2.05,0.72)(1.88,0.68)(2.15,0.65)(1.95,0.6)(2.05,0.55)(1.98,0.5)(2.02,0.45)(1.95,0.4)(2.0,0.3)(1.98,0.25)(2.0,0.0)};
\addplot[P3] coordinates {(2.95,2.2)(3.02,2.18)(2.98,2.12)(3.05,2.15)(2.97,1.9)(3.02,1.85)(2.95,1.78)(3.0,1.6)(2.92,1.55)(3.08,1.52)(2.85,1.48)(3.15,1.45)(3.0,1.42)(2.78,1.38)(3.22,1.36)(2.92,1.34)(3.1,1.32)(2.7,1.3)(3.3,1.28)(2.85,1.26)(3.05,1.24)(2.65,1.22)(3.35,1.2)(2.95,1.18)(3.18,1.16)(2.75,1.14)(3.28,1.12)(2.88,1.1)(3.08,1.08)(2.68,1.06)(3.38,1.04)(2.98,1.02)(2.8,1.0)(3.2,0.98)(2.62,0.96)(3.1,0.94)(2.9,0.92)(3.32,0.9)(2.72,0.88)(3.02,0.86)(2.85,0.84)(3.22,0.82)(2.65,0.8)(3.12,0.78)(2.95,0.76)(3.35,0.75)(2.78,0.74)(3.05,0.72)(2.88,0.7)(3.18,0.68)(2.75,0.66)(2.98,0.62)(3.1,0.6)(2.85,0.58)(3.05,0.55)(2.92,0.52)(3.12,0.48)(2.88,0.45)(3.02,0.42)(2.95,0.38)(3.05,0.35)(2.92,0.0)(2.97,0.0)(3.02,0.0)(3.07,0.0)};
\addplot[P3] coordinates {(4.0,2.1)(3.97,1.85)(4.03,1.82)(3.95,1.78)(4.05,1.75)(3.92,1.68)(4.08,1.65)(3.98,1.6)(3.88,1.55)(4.12,1.52)(3.95,1.48)(4.02,1.46)(3.82,1.42)(4.18,1.4)(3.75,1.36)(4.25,1.34)(3.9,1.32)(4.08,1.3)(3.68,1.28)(4.32,1.26)(3.85,1.24)(4.15,1.22)(3.98,1.2)(3.72,1.18)(4.28,1.16)(3.9,1.14)(4.1,1.12)(3.65,1.1)(4.35,1.08)(3.82,1.06)(4.02,1.04)(4.2,1.02)(3.75,1.0)(3.95,0.98)(4.3,0.96)(3.88,0.94)(4.12,0.92)(3.68,0.9)(4.25,0.88)(3.92,0.86)(4.05,0.84)(3.78,0.82)(4.18,0.8)(3.62,0.78)(3.98,0.76)(4.3,0.74)(3.85,0.72)(4.1,0.7)(3.72,0.68)(4.0,0.65)(4.2,0.62)(3.8,0.6)(3.95,0.55)(4.1,0.52)(3.88,0.48)(4.05,0.45)(3.82,0.42)(3.98,0.4)(4.12,0.38)(3.9,0.35)(4.05,0.32)(3.95,0.3)(4.1,0.25)(4.0,0.22)(3.95,0.0)(4.0,0.0)(4.05,0.0)};
\bp{1}{0.56}{0.79}{1.0}{1.19}{1.47}{black!85}{medg}
\bp{2}{0.5}{0.77}{0.98}{1.19}{1.43}{black!85}{medg}
\bp{3}{0.47}{0.74}{1.0}{1.25}{1.44}{black!85}{medg}
\bp{4}{0.37}{0.68}{0.97}{1.25}{1.47}{black!85}{medg}
\end{axis}
\begin{axis}[pan, at={(834pt,-1250.25pt)}, height=209.1pt, ymin=-0.5, ymax=2.9, ytick={0,0.6,1.0,1.4,1.8,2.2,2.6}, minor ytick={-0.4,-0.2,0.2,0.4,0.8,1.2,1.6,2.0,2.4,2.8}]
\addplot[P1] coordinates {(1.0,1.55)(0.95,1.5)(1.05,1.48)(0.9,1.45)(1.1,1.42)(0.98,1.4)(0.85,1.36)(1.15,1.35)(1.02,1.33)(0.8,1.3)(1.2,1.28)(0.95,1.26)(1.1,1.24)(0.75,1.22)(1.28,1.2)(0.88,1.18)(1.05,1.16)(0.7,1.14)(1.32,1.12)(0.95,1.1)(1.15,1.08)(0.8,1.06)(1.25,1.04)(1.0,1.02)(0.72,1.0)(0.9,1.0)(1.35,0.98)(1.1,0.96)(0.82,0.94)(1.2,0.92)(0.95,0.9)(0.68,0.88)(1.3,0.86)(1.05,0.84)(0.85,0.82)(1.15,0.8)(0.92,0.78)(1.25,0.75)(0.78,0.72)(1.02,0.7)(0.88,0.66)(1.1,0.64)(0.95,0.6)(1.05,0.57)(0.9,0.52)(1.0,0.48)(0.98,0.45)(0.97,0.0)(1.03,0.0)};
\addplot[P2] coordinates {(2.0,2.2)(2.0,1.78)(1.95,1.72)(2.05,1.68)(1.92,1.62)(2.08,1.58)(1.98,1.55)(1.85,1.5)(2.15,1.48)(2.02,1.45)(1.8,1.4)(2.2,1.38)(1.92,1.35)(2.1,1.32)(1.75,1.28)(2.28,1.26)(1.88,1.24)(2.05,1.22)(1.7,1.18)(2.32,1.16)(1.95,1.14)(2.15,1.12)(1.78,1.1)(2.25,1.08)(1.9,1.06)(2.05,1.04)(1.68,1.02)(2.35,1.0)(1.85,0.98)(2.12,0.96)(1.75,0.94)(2.22,0.92)(1.95,0.9)(2.05,0.86)(1.8,0.84)(2.18,0.82)(1.9,0.8)(2.08,0.76)(1.85,0.72)(2.0,0.68)(2.12,0.64)(1.95,0.6)(2.05,0.56)(1.98,0.5)(2.02,0.45)(2.0,0.35)(2.0,0.25)(1.95,0.0)(2.0,0.0)(2.05,0.0)};
\addplot[P3] coordinates {(2.98,1.65)(3.03,1.62)(2.95,1.58)(3.05,1.55)(2.9,1.5)(3.1,1.45)(3.0,1.42)(2.85,1.38)(3.15,1.36)(2.95,1.34)(2.78,1.3)(3.22,1.28)(3.05,1.26)(2.7,1.24)(2.9,1.22)(3.3,1.2)(3.12,1.18)(2.8,1.16)(3.0,1.14)(2.65,1.12)(3.25,1.1)(2.88,1.08)(3.08,1.06)(2.72,1.04)(3.35,1.02)(2.95,1.0)(3.18,0.98)(2.82,0.96)(2.62,0.94)(3.05,0.92)(3.3,0.9)(2.9,0.88)(3.15,0.86)(2.75,0.84)(3.0,0.82)(3.25,0.8)(2.85,0.78)(3.1,0.76)(2.68,0.75)(2.95,0.72)(3.2,0.7)(2.8,0.68)(3.05,0.66)(2.9,0.62)(3.12,0.6)(2.95,0.55)(3.02,0.5)(2.95,0.45)(3.0,0.4)(2.97,0.35)(3.02,0.3)};
\addplot[P3] coordinates {(4.0,1.68)(3.97,1.55)(4.03,1.52)(3.92,1.5)(4.08,1.48)(3.95,1.45)(4.05,1.42)(3.88,1.4)(4.12,1.38)(3.98,1.36)(3.82,1.34)(4.18,1.32)(4.02,1.3)(3.75,1.28)(4.25,1.26)(3.9,1.24)(4.1,1.22)(3.7,1.2)(4.3,1.18)(3.85,1.17)(4.05,1.16)(3.65,1.15)(4.35,1.14)(3.95,1.12)(4.2,1.1)(3.78,1.08)(4.08,1.06)(3.62,1.05)(4.38,1.04)(3.9,1.02)(4.15,1.0)(3.72,0.98)(4.28,0.96)(4.0,0.95)(3.82,0.93)(4.12,0.92)(3.68,0.9)(4.32,0.88)(3.92,0.86)(4.05,0.84)(3.78,0.82)(4.22,0.8)(3.88,0.78)(4.1,0.76)(3.95,0.74)(3.75,0.72)(4.02,0.7)(4.15,0.68)(3.85,0.66)(3.98,0.62)(4.08,0.6)(3.9,0.56)(4.02,0.52)(3.95,0.5)(4.05,0.48)(3.92,0.45)(4.0,0.42)(3.97,0.38)(4.03,0.3)(3.98,0.25)(4.02,0.22)(3.97,0.0)(4.03,0.0)};
\bp{1}{0.61}{0.8}{1.0}{1.24}{1.33}{black!85}{medg}
\bp{2}{0.52}{0.69}{0.96}{1.2}{1.35}{black!85}{medg}
\bp{3}{0.66}{0.79}{1.0}{1.18}{1.35}{black!85}{medg}
\bp{4}{0.48}{0.74}{0.92}{1.16}{1.3}{black!85}{medg}
\end{axis}
\end{tikzpicture}
\end{document}
